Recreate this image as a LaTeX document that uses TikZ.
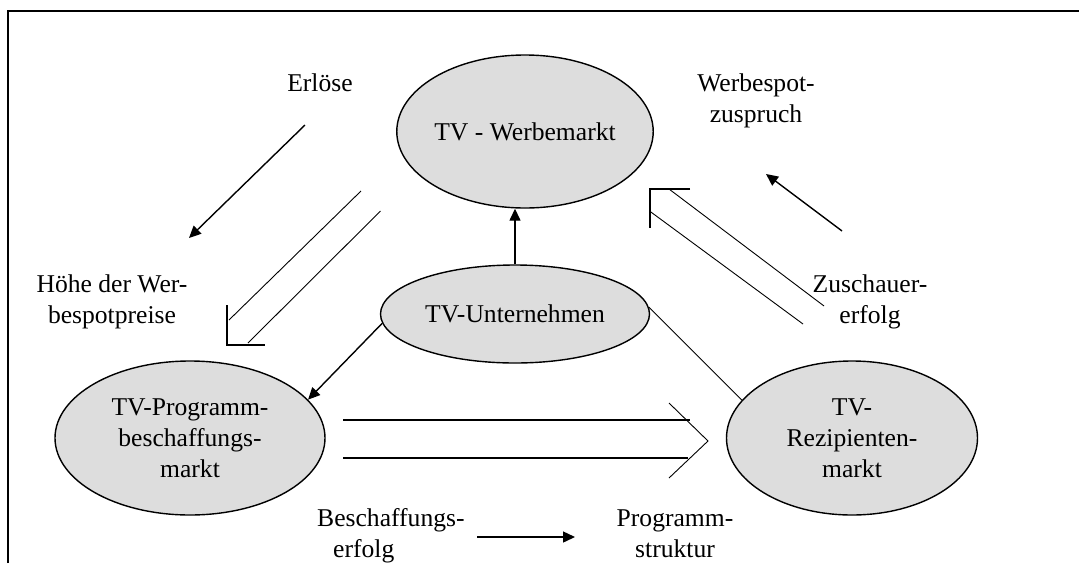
\documentclass[tikz,border=0pt]{standalone}
\usepackage{fontspec}
\setmainfont{Liberation Serif}
\usetikzlibrary{shapes.geometric,arrows.meta}
\definecolor{marketgray}{HTML}{DDDDDD}

\begin{document}
\begin{tikzpicture}[x=1pt,y=-1pt,
font=\fontsize{25.6}{31}\selectfont,
market/.style={
% The shape:
ellipse,
draw=black,
line width=1.4pt,
fill=marketgray,
inner sep=0pt,
align=center
},
flowtext/.style={align=center,inner sep=0pt,anchor=base},
flow/.style={line width=1.4pt,-{Triangle[length=12pt,width=11pt]}},
hollow/.style={line width=0.9pt},
headline/.style={line width=2pt}
]
\useasboundingbox (0,0) rectangle (1079,563);
% Frame:
\draw[line width=1.3pt] (8,563) -- (8,11) -- (1079,11);
% Markets:
\node (werbe) [market,minimum width=249pt,minimum height=153pt] at (525,131.5) {TV - Werbemarkt};
\node (untern) [market,minimum width=269pt,minimum height=98pt] at (515,314) {TV-Unternehmen};
\node (prog) [market,minimum width=270pt,minimum height=154pt] at (190,438) {TV-Programm-\\beschaffungs-\\markt};
\node (rezip) [market,minimum width=251pt,minimum height=154pt] at (852,438) {TV-\\Rezipienten-\\markt};
% Texts (base = last line):
\node (erloese) [flowtext] at (320,91) {Erlöse};
\node (spotzu) [flowtext] at (756,122) {Werbespot-\\zuspruch};
\node (hoehe) [flowtext] at (112,323) {Höhe der Wer-\\bespotpreise};
\node (zuschauer) [flowtext] at (870,323) {Zuschauer-\\erfolg};
\node (beschaffung) [flowtext,align=left,anchor=base west] at (317,557) {Beschaffungs-\\\hspace*{16pt}erfolg};
\node (progstruktur) [flowtext] at (675,557) {Programm-\\struktur};
\coordinate (erl-from) at (305,125);
\coordinate (erl-to) at (189,238);
\coordinate (spot-from) at (842,231);
\coordinate (spot-to) at (766,174);
\coordinate (besch-from) at (477,537);
\coordinate (besch-to) at (575,537);
\path (untern.north) edge[flow] (untern.north |- werbe.south) (untern.184) edge[flow] (prog.18) (untern.3) edge[hollow] (rezip.161) (erl-from) edge[flow] (erl-to) (spot-from) edge[flow] (spot-to) (besch-from) edge[flow] (besch-to);
% Broad arrows:
\draw[hollow] (361,191) -- (229,320) (380.5,211) -- (248,343);
\draw[headline] (227,305) -- (227,345) -- (265,345);
\draw[hollow] (669,189) -- (824,306) (649.5,211) -- (803,324);
\draw[headline] (690,189) -- (649.5,189) -- (649.5,228);
\draw[line width=2.4pt] (343,420) -- (690,420);
\draw[line width=1.4pt] (343,458) -- (688,458);
\draw[hollow] (669,403) -- (708,441) -- (669,478);
\end{tikzpicture}
\end{document}
